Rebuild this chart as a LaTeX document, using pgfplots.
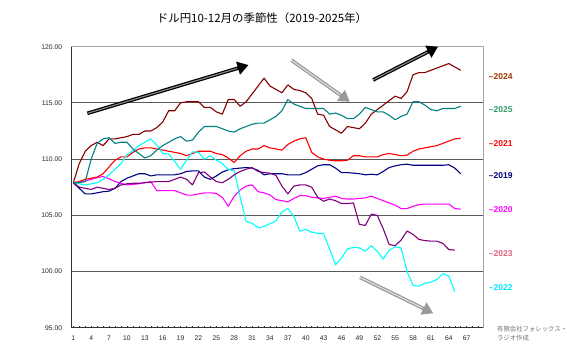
\documentclass[border=0pt]{standalone}
\usepackage{pgfplots}
\pgfplotsset{compat=1.18}
\usepackage{pgfplotstable}
\usepackage{fontspec}
\setmainfont{Liberation Sans}
\newfontfamily\cjk{Noto Sans CJK JP}
\usetikzlibrary{arrows.meta}
\definecolor{c2024}{HTML}{800000}
\definecolor{c2025}{HTML}{008080}
\definecolor{c2021}{HTML}{FF0000}
\definecolor{c2019}{HTML}{000080}
\definecolor{c2020}{HTML}{FF00FF}
\definecolor{c2023}{HTML}{800080}
\definecolor{c2022}{HTML}{00FFFF}
\definecolor{l2024}{HTML}{993300}
\definecolor{l2025}{HTML}{339966}
\definecolor{l2023}{HTML}{E0607A}
\definecolor{l2022}{HTML}{00E5FF}
\pgfplotstableread{
idx y2019 y2020 y2021 y2022 y2023 y2024 y2025
1 107.9 107.9 107.9 107.9 107.9 107.9 107.9
2 107.4 107.95 108.0 107.8 107.5 109.6 107.9
3 106.9 108.05 108.2 107.7 107.4 110.7 108.0
4 106.9 108.2 108.3 107.8 107.3 111.2 110.0
5 107.0 108.35 108.4 107.9 107.5 111.5 111.4
6 107.1 108.45 108.7 108.2 107.4 111.2 111.8
7 107.15 108.25 109.3 108.6 107.3 111.8 111.9
8 107.4 108.0 109.9 109.1 107.4 111.8 111.4
9 108.0 107.85 110.2 109.6 107.7 111.9 111.5
10 108.3 107.7 110.2 110.4 107.8 112.0 111.5
11 108.5 107.75 110.6 110.75 107.85 112.2 110.9
12 108.7 107.8 110.9 111.2 107.85 112.2 110.5
13 108.7 107.9 111.0 111.5 107.9 112.5 110.1
14 108.5 108.0 111.0 111.8 107.95 112.5 110.3
15 108.6 107.2 110.9 111.25 108.0 112.8 110.8
16 108.6 107.2 110.8 110.5 108.0 113.3 111.2
17 108.6 107.2 110.7 110.45 108.0 114.3 111.5
18 108.6 107.2 110.6 109.8 108.2 114.3 111.8
19 108.7 107.0 110.5 109.1 108.4 115.0 112.0
20 108.9 106.8 110.3 109.9 108.2 115.1 111.6
21 108.95 106.8 110.5 110.65 107.7 115.1 111.7
22 108.95 106.9 110.7 110.6 108.8 115.1 112.4
23 108.4 107.0 110.7 110.0 108.85 114.6 112.9
24 108.2 107.0 110.7 110.3 108.4 114.6 112.9
25 108.5 106.95 110.5 109.9 108.0 114.2 112.9
26 108.85 106.6 110.4 109.6 107.9 114.0 112.7
27 109.05 105.8 110.1 109.1 108.2 115.3 112.5
28 109.15 106.7 109.7 108.95 108.6 115.3 112.4
29 109.2 107.25 110.3 106.6 108.9 114.7 112.7
30 109.25 107.6 110.7 104.45 109.1 115.1 112.9
31 109.2 107.7 110.9 104.3 109.25 115.8 113.1
32 109.0 107.1 110.9 103.9 108.9 116.5 113.2
33 108.6 107.0 111.2 104.0 108.8 117.2 113.2
34 108.7 106.8 111.0 104.25 108.75 116.5 113.5
35 108.7 106.4 110.9 104.5 108.55 116.2 113.8
36 108.7 106.3 110.8 105.3 107.6 115.9 114.3
37 108.6 106.2 111.3 105.6 106.9 116.6 115.3
38 108.6 106.5 111.6 104.9 107.6 116.2 114.9
39 108.6 106.75 111.8 103.6 107.7 116.1 114.7
40 108.8 106.75 111.9 103.75 107.7 115.9 114.5
41 109.1 106.6 110.6 103.5 107.5 115.4 114.5
42 109.4 106.55 110.2 103.4 106.6 114.0 114.5
43 109.5 106.5 110.0 103.35 106.25 113.9 114.5
44 109.5 106.6 109.9 102.0 106.45 112.9 114.0
45 109.2 106.7 109.85 100.6 106.3 112.6 114.1
46 108.8 106.5 109.85 101.2 106.05 112.3 113.9
47 108.8 106.45 109.9 102.0 106.05 112.9 113.6
48 108.75 106.45 110.3 102.15 106.1 112.8 113.6
49 108.7 106.5 110.3 102.1 104.2 112.7 114.0
50 108.6 106.55 110.2 101.8 104.1 113.2 114.6
51 108.65 106.7 110.2 102.3 105.1 114.0 114.4
52 108.6 106.5 110.2 101.8 105.0 114.4 114.2
53 108.9 106.3 110.4 101.1 103.8 114.8 114.2
54 109.25 106.1 110.5 101.9 102.4 115.2 113.9
55 109.4 105.9 110.4 102.2 102.3 115.6 113.5
56 109.5 105.6 110.3 102.1 102.8 115.4 113.8
57 109.55 105.6 110.35 100.0 103.6 116.0 114.0
58 109.45 105.8 110.7 98.75 103.3 117.5 115.1
59 109.45 105.95 110.9 98.7 102.85 117.7 115.1
60 109.45 106.0 111.0 98.95 102.75 117.7 114.8
61 109.45 106.0 111.1 99.05 102.7 117.9 114.4
62 109.45 106.0 111.2 99.3 102.7 118.1 114.3
63 109.45 106.0 111.4 99.8 102.5 118.3 114.5
64 109.5 106.0 111.6 99.6 101.95 118.5 114.5
65 109.2 105.6 111.8 98.2 101.9 118.2 114.5
66 108.7 105.55 111.85 nan nan 117.9 114.7
}\datatable
\begin{document}
\begin{tikzpicture}
\useasboundingbox (0,0) rectangle (567bp,354bp);
\node[font=\cjk\fontsize{11.5}{13}\selectfont] at (262bp,336bp) {ドル円10-12月の季節性（2019-2025年）};
\node[anchor=north west, align=left, text=black!55, font=\cjk\fontsize{6.4}{8.5}\selectfont, inner sep=0pt] at (497bp,28bp) {有限会社フォレックス・\\ラジオ作成};
\begin{axis}[
  at={(71.7bp,26.3bp)}, anchor=south west, scale only axis,
  width=411.3bp, height=281bp,
  xmin=0.73, xmax=69.74, ymin=95, ymax=120,
  xtick={1,4,...,67}, minor xtick={1,...,69},
  ytick={95,100,...,120},
  extra y ticks={100,105,110,115}, extra y tick labels={},
  extra y tick style={grid=major, major grid style={black!65, line width=0.9pt}},
  tick align=inside, xtick pos=bottom,
  ytick style={draw=none},
  major tick length=2bp, minor tick length=1.6bp,
  tick style={black!80, line width=0.5pt},
  axis line style={black!35, line width=0.9pt},
  tick label style={font=\fontsize{6.8}{7}\selectfont, text=black!85},
  yticklabel style={/pgf/number format/fixed, /pgf/number format/fixed zerofill, /pgf/number format/precision=2},
  /pgf/number format/assume math mode=true,
  xticklabel style={yshift=-4.5bp},
  yticklabel style={xshift=-6bp},
  clip=false,
  every axis plot/.append style={line width=1.1pt, mark=none, line join=round},
]
\addplot[c2019] table[x=idx, y=y2019] {\datatable};
\addplot[c2020] table[x=idx, y=y2020] {\datatable};
\addplot[c2021] table[x=idx, y=y2021] {\datatable};
\addplot[c2022] table[x=idx, y=y2022] {\datatable};
\addplot[c2023] table[x=idx, y=y2023] {\datatable};
\addplot[c2024] table[x=idx, y=y2024] {\datatable};
\addplot[c2025] table[x=idx, y=y2025] {\datatable};
\draw[black!80, line width=0.9pt] (rel axis cs:0,1) -- (rel axis cs:0,0) -- (rel axis cs:1,0);
% trend arrows
\draw[black, line width=3.6pt, -{Triangle[length=11pt,width=13pt]}] (axis cs:3.35,114.07) -- (axis cs:30.4,118.37);
\draw[black!45, line width=1.1pt, shorten >=12pt] (axis cs:3.35,114.07) -- (axis cs:30.4,118.37);
\draw[black, line width=3.6pt, -{Triangle[length=11pt,width=13pt]}] (axis cs:51.3,117.04) -- (axis cs:62.2,120.0);
\draw[black!45, line width=1.1pt, shorten >=12pt] (axis cs:51.3,117.04) -- (axis cs:62.2,120.0);
\draw[black!40, line width=3.6pt, -{Triangle[length=11pt,width=13pt]}] (axis cs:37.6,118.8) -- (axis cs:47.4,115.1);
\draw[black!12, line width=1.1pt, shorten >=12pt] (axis cs:37.6,118.8) -- (axis cs:47.4,115.1);
\draw[black!40, line width=3.6pt, -{Triangle[length=11pt,width=13pt]}] (axis cs:49.1,99.48) -- (axis cs:61.4,96.28);
\draw[black!12, line width=1.1pt, shorten >=12pt] (axis cs:49.1,99.48) -- (axis cs:61.4,96.28);
% series labels
\begin{scope}[every node/.style={anchor=west, font=\bfseries\fontsize{8.5}{9}\selectfont, inner sep=0pt}]
\node[text=l2024] at (axis cs:70.7,117.33) {–2024};
\node[text=l2025] at (axis cs:70.7,114.37) {–2025};
\node[text=c2021] at (axis cs:70.7,111.4) {–2021};
\node[text=c2019] at (axis cs:70.7,108.5) {–2019};
\node[text=c2020] at (axis cs:70.7,105.47) {–2020};
\node[text=l2023] at (axis cs:70.7,101.56) {–2023};
\node[text=l2022] at (axis cs:70.7,98.6) {–2022};
\end{scope}
\end{axis}
\end{tikzpicture}
\end{document}
